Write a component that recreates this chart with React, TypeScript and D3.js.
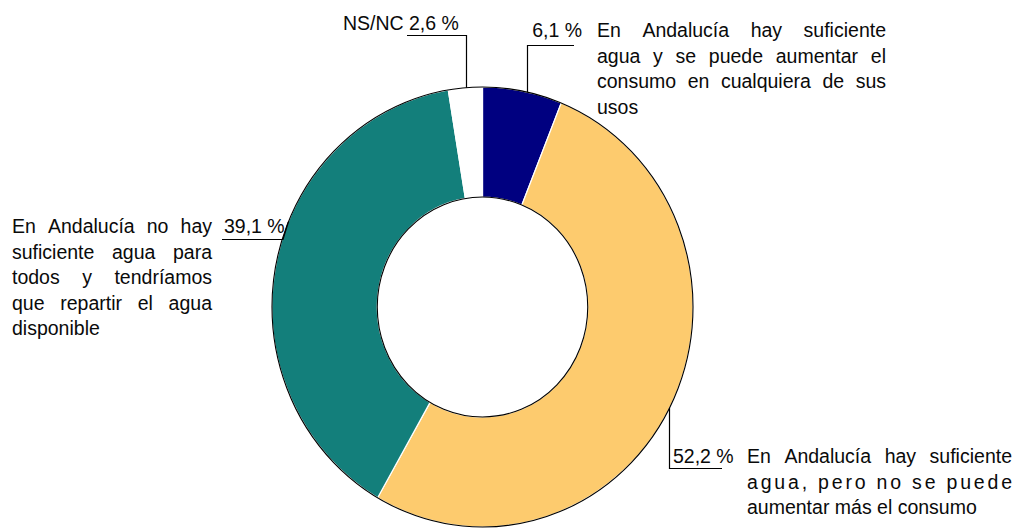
import React, { useEffect, useRef } from 'react';
import * as d3 from 'd3';

const categories = ['hay_aumentar', 'hay_no_aumentar', 'no_hay', 'nsnc'];
const values = [6.1, 52.2, 39.1, 2.6];
const valueLabels = ['6,1 %', '52,2 %', '39,1 %', '2,6 %'];
const colors = ['#000080', '#FDCB6E', '#137F7B', '#FFFFFF'];
const descriptions = [
  ['En Andalucía hay suficiente', 'agua y se puede aumentar el', 'consumo en cualquiera de sus', 'usos'],
  ['En Andalucía hay suficiente', 'agua, pero no se puede', 'aumentar más el consumo'],
  ['En Andalucía no hay', 'suficiente agua para', 'todos y tendríamos', 'que repartir el agua', 'disponible'],
  ['NS/NC'],
];

const W = 1016;
const H = 532;
const CX = 482.5;
const CY = 307;
const RX = 210.5;
const RY = 220;
const INNER = 0.5;
const FONT = '"Liberation Sans", Arial, Helvetica, sans-serif';
const FS = 19.5;
const LH = 25.5;

function edgeTopY(x: number) {
  const t = (x - CX) / RX;
  return CY - RY * Math.sqrt(Math.max(0, 1 - t * t));
}
function edgeBottomY(x: number) {
  const t = (x - CX) / RX;
  return CY + RY * Math.sqrt(Math.max(0, 1 - t * t));
}
function edgeLeftX(y: number) {
  const t = (y - CY) / RY;
  return CX - RX * Math.sqrt(Math.max(0, 1 - t * t));
}

function drawBlock(g: any, lines: string[], x0: number, x1: number, y0: number, letterSpaced: number[] = []) {
  lines.forEach((line, i) => {
    const y = y0 + i * LH;
    const last = i === lines.length - 1;
    if (last) {
      g.append('text').attr('x', x0).attr('y', y).text(line);
      return;
    }
    if (letterSpaced.includes(i)) {
      g.append('text')
        .attr('x', x0)
        .attr('y', y)
        .attr('textLength', x1 - x0)
        .attr('lengthAdjust', 'spacing')
        .text(line);
      return;
    }
    const words = line.split(' ');
    const nodes = words.map((w) => g.append('text').attr('y', y).text(w));
    const widths = nodes.map((n: any) => (n.node() as SVGTextElement).getComputedTextLength());
    const total = d3.sum(widths);
    const gap = words.length > 1 ? (x1 - x0 - total) / (words.length - 1) : 0;
    let x = x0;
    nodes.forEach((n: any, k: number) => {
      n.attr('x', x);
      x += widths[k] + gap;
    });
  });
}

export default function App() {
  const ref = useRef<SVGSVGElement>(null);

  useEffect(() => {
    const svg = d3.select(ref.current);
    svg.selectAll('*').remove();

    const pie = d3.pie<number>().sort(null).value((d) => d);
    const arcs = pie(values);
    const arc = d3.arc<any>().innerRadius(RX * INNER).outerRadius(RX);

    const donut = svg
      .append('g')
      .attr('transform', `translate(${CX},${CY}) scale(1,${RY / RX})`);

    donut
      .selectAll('path')
      .data(arcs)
      .join('path')
      .attr('d', arc)
      .attr('fill', (_d, i) => colors[i])
      .attr('stroke', '#ffffff')
      .attr('stroke-width', 1.2)
      .attr('vector-effect', 'non-scaling-stroke')
      .attr('data-cat', (_d, i) => categories[i]);

    donut
      .append('circle')
      .attr('r', RX)
      .attr('fill', 'none')
      .attr('stroke', '#000')
      .attr('stroke-width', 1.1)
      .attr('vector-effect', 'non-scaling-stroke');
    donut
      .append('circle')
      .attr('r', RX * INNER)
      .attr('fill', 'none')
      .attr('stroke', '#000')
      .attr('stroke-width', 1.1)
      .attr('vector-effect', 'non-scaling-stroke');

    const lines = svg.append('g').attr('fill', 'none').attr('stroke', '#000').attr('stroke-width', 1.2);
    const text = svg
      .append('g')
      .attr('font-family', FONT)
      .attr('font-size', FS)
      .attr('fill', '#0a0a0a');

    // 6,1 %
    lines
      .append('path')
      .attr('d', `M574,45.5 H527.5 V${edgeTopY(527.5)}`);
    text.append('text').attr('x', 582).attr('y', 37).attr('text-anchor', 'end').text(valueLabels[0]);
    drawBlock(text, descriptions[0], 597, 886, 37);

    // 52,2 %
    lines
      .append('path')
      .attr('d', `M669.5,${edgeBottomY(669.5)} V468.5 H722`);
    text.append('text').attr('x', 673).attr('y', 463).text(valueLabels[1]);
    drawBlock(text, descriptions[1], 747, 1012, 463, [1]);

    // 39,1 %
    lines
      .append('path')
      .attr('d', `M222,239.5 H283 L${edgeLeftX(222)},222`);
    text.append('text').attr('x', 224).attr('y', 233).text(valueLabels[2]);
    drawBlock(text, descriptions[2], 12, 212, 233);

    // 2,6 %
    lines
      .append('path')
      .attr('d', `M407,35.5 H466.5 V${edgeTopY(466.5)}`);
    text.append('text').attr('x', 409).attr('y', 30).text(valueLabels[3]);
    text.append('text').attr('x', 343).attr('y', 30).text(descriptions[3][0]);
  }, []);

  return (
    <svg
      ref={ref}
      width={W}
      height={H}
      style={{ position: 'absolute', left: 0, top: 0, background: '#fff' }}
    />
  );
}
